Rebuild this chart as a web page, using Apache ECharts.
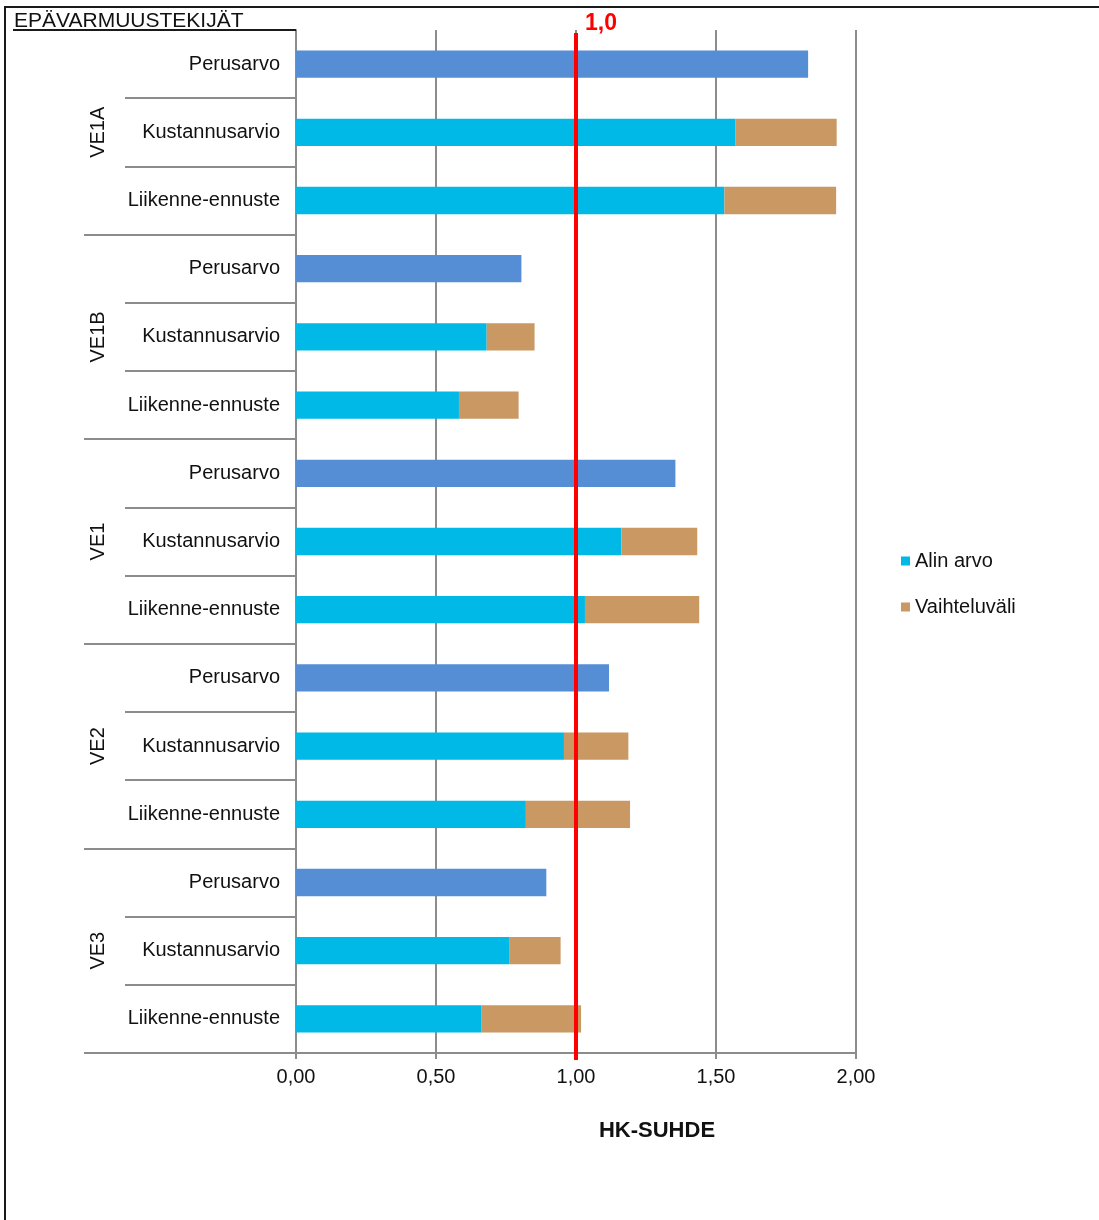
<!DOCTYPE html>
<html>
<head>
<meta charset="utf-8">
<title>HK-suhde – epävarmuustekijät</title>
<script src="https://cdn.jsdelivr.net/npm/echarts@6/dist/echarts.min.js"></script>
<style>
  html, body { margin: 0; padding: 0; background: #fff; }
  #chart { width: 1099px; height: 1220px; }
</style>
</head>
<body>
<div id="chart"></div>
<script>
// Vaihtoehdot ja tarkastellut epävarmuustekijät
const groups = ['VE1A', 'VE1B', 'VE1', 'VE2', 'VE3'];
const rowTypes = ['Perusarvo', 'Kustannusarvio', 'Liikenne-ennuste'];

// HK-suhteet vaihtoehdoittain
const perusarvo     = [1.829, 0.805, 1.355, 1.118, 0.894];
const alinKustannus = [1.570, 0.681, 1.162, 0.957, 0.761];
const ylinKustannus = [1.931, 0.852, 1.433, 1.187, 0.945];
const alinLiikenne  = [1.530, 0.582, 1.032, 0.821, 0.661];
const ylinLiikenne  = [1.929, 0.795, 1.440, 1.193, 1.018];

// Kannattavuusraja
const threshold = 1.0;
const xTicks = [0, 0.5, 1.0, 1.5, 2.0];

const COLOR_PERUS = '#558ED5';
const COLOR_ALIN = '#00B9E7';
const COLOR_VAIHTELU = '#C99863';
const GRID_GREY = '#8C8C8C';
const FONT = '"Liberation Sans", Arial, sans-serif';

// Rivit: jokaiselle vaihtoehdolle kolme riviä
const rowIds = [];
const alinData = [];
const vaihteluData = [];
groups.forEach((g, i) => {
  rowTypes.forEach((t) => {
    rowIds.push(g + '|' + t);
    if (t === 'Perusarvo') {
      alinData.push({ value: perusarvo[i], itemStyle: { color: COLOR_PERUS } });
      vaihteluData.push('-');
    } else if (t === 'Kustannusarvio') {
      alinData.push(alinKustannus[i]);
      vaihteluData.push(+(ylinKustannus[i] - alinKustannus[i]).toFixed(3));
    } else {
      alinData.push(alinLiikenne[i]);
      vaihteluData.push(+(ylinLiikenne[i] - alinLiikenne[i]).toFixed(3));
    }
  });
});

const chart = echarts.init(document.getElementById('chart'), null, { renderer: 'canvas' });

const fmt = (v, d) => v.toFixed(d).replace('.', ',');

const option = {
  backgroundColor: '#fff',
  animation: false,
  textStyle: { fontFamily: FONT },
  grid: { left: 296, right: 243, top: 30, bottom: 167, containLabel: false },
  legend: {
    orient: 'vertical',
    left: 901,
    top: 551,
    padding: 0,
    itemWidth: 9,
    itemHeight: 9,
    itemGap: 26,
    icon: 'rect',
    textStyle: { fontFamily: FONT, fontSize: 20, color: '#111' },
    data: ['Alin arvo', 'Vaihteluväli']
  },
  xAxis: {
    type: 'value',
    min: xTicks[0],
    max: xTicks[xTicks.length - 1],
    interval: xTicks[1] - xTicks[0],
    axisLine: { show: true, lineStyle: { color: GRID_GREY, width: 2 } },
    axisTick: { show: true, length: 6, lineStyle: { color: GRID_GREY, width: 2 } },
    splitLine: { show: true, lineStyle: { color: GRID_GREY, width: 2 } },
    axisLabel: {
      margin: 14,
      fontSize: 20,
      color: '#111',
      fontFamily: FONT,
      formatter: (v) => fmt(v, 2)
    }
  },
  yAxis: [
    {
      type: 'category',
      inverse: true,
      data: rowIds,
      axisLine: { show: true, lineStyle: { color: GRID_GREY, width: 2 } },
      axisTick: { show: true, length: 171, interval: 0, lineStyle: { color: GRID_GREY, width: 2 } },
      axisLabel: {
        margin: 16,
        fontSize: 20,
        color: '#111',
        fontFamily: FONT,
        interval: 0,
        formatter: (v) => v.split('|')[1]
      }
    },
    {
      type: 'category',
      inverse: true,
      position: 'left',
      data: groups,
      axisLine: { show: false },
      axisTick: { show: true, length: 212, interval: 0, lineStyle: { color: GRID_GREY, width: 2 } },
      axisLabel: {
        margin: 188,
        rotate: 90,
        fontSize: 20,
        color: '#111',
        fontFamily: FONT,
        interval: 0
      }
    }
  ],
  series: [
    {
      name: 'Alin arvo',
      type: 'bar',
      stack: 'hk',
      yAxisIndex: 0,
      barWidth: '40%',
      itemStyle: { color: COLOR_ALIN },
      data: alinData,
      z: 2
    },
    {
      name: 'Vaihteluväli',
      type: 'bar',
      stack: 'hk',
      yAxisIndex: 0,
      barWidth: '40%',
      itemStyle: { color: COLOR_VAIHTELU },
      data: vaihteluData,
      z: 2
    }
  ]
};

chart.setOption(option);

// Otsikko, kannattavuusraja, akselin nimi ja kehys
const rowHalf = (chart.convertToPixel({ yAxisIndex: 0 }, rowIds[1]) -
                 chart.convertToPixel({ yAxisIndex: 0 }, rowIds[0])) / 2;
const gridTop = chart.convertToPixel({ yAxisIndex: 0 }, rowIds[0]) - rowHalf;
const gridBottom = chart.convertToPixel({ yAxisIndex: 0 }, rowIds[rowIds.length - 1]) + rowHalf;
const leftEdge = chart.convertToPixel({ xAxisIndex: 0 }, xTicks[0]);
const thresholdX = chart.convertToPixel({ xAxisIndex: 0 }, threshold);

chart.setOption({
  graphic: [
    {
      type: 'rect',
      shape: { x: 5, y: 7, width: 1200, height: 1300 },
      style: { fill: 'none', stroke: '#1a1a1a', lineWidth: 2 },
      silent: true,
      z: 0
    },
    {
      type: 'text',
      left: 14,
      top: 11,
      style: { text: 'EPÄVARMUUSTEKIJÄT', fontSize: 21, fontFamily: FONT, fill: '#111' },
      z: 10
    },
    {
      type: 'line',
      shape: { x1: 13, y1: gridTop, x2: leftEdge, y2: gridTop },
      style: { stroke: '#1a1a1a', lineWidth: 2 },
      silent: true,
      z: 10
    },
    {
      type: 'line',
      shape: { x1: thresholdX, y1: gridTop + 3, x2: thresholdX, y2: gridBottom + 7 },
      style: { stroke: '#FF0000', lineWidth: 4 },
      silent: true,
      z: 20
    },
    {
      type: 'text',
      x: thresholdX + 9,
      y: 24,
      style: {
        text: fmt(threshold, 1),
        fontSize: 23,
        fontWeight: 'bold',
        fontFamily: FONT,
        fill: '#FF0000',
        verticalAlign: 'middle'
      },
      z: 20
    },
    {
      type: 'text',
      x: 657,
      y: 1131,
      style: {
        text: 'HK-SUHDE',
        fontSize: 22,
        fontWeight: 'bold',
        fontFamily: FONT,
        fill: '#111',
        align: 'center',
        verticalAlign: 'middle'
      },
      z: 10
    }
  ]
});
</script>
</body>
</html>
